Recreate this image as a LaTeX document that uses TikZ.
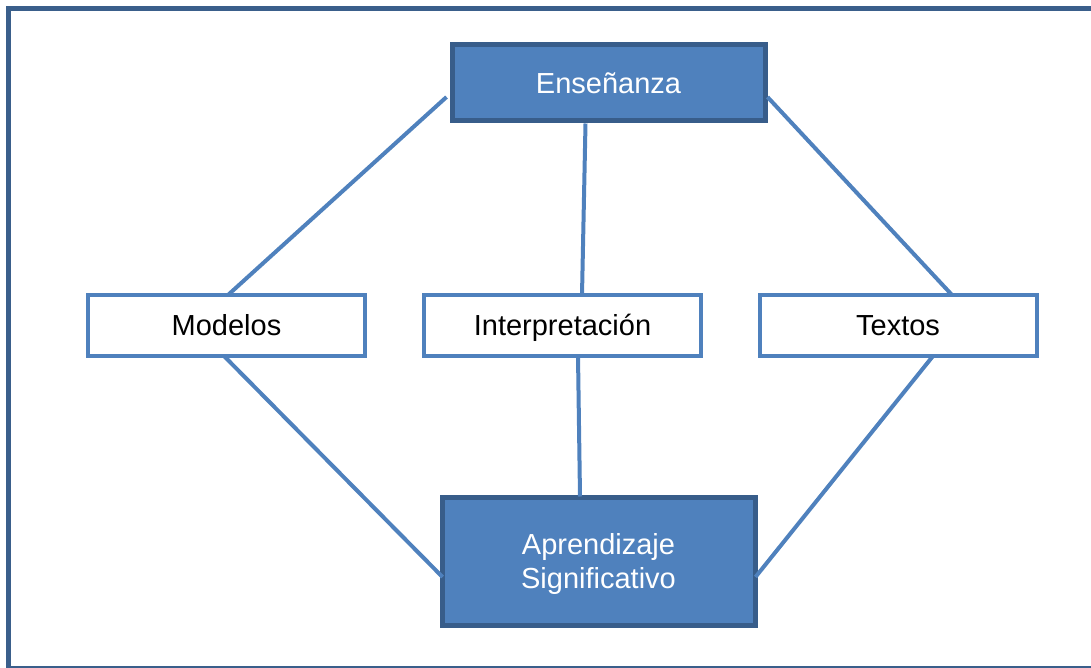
\documentclass[tikz,border=0pt]{standalone}
\usepackage{fontspec}
\setmainfont{Liberation Sans}
\usetikzlibrary{calc}
\definecolor{boxfill}{HTML}{4F81BD}
\definecolor{boxdark}{HTML}{385D8A}
\definecolor{framecol}{HTML}{3A5F8B}
\tikzset{
  bluebox/.style={draw=boxdark, fill=boxfill, line width=5pt, text=white,
    minimum width=313pt, align=center, inner sep=0pt,
    font=\fontsize{29}{35}\selectfont},
  whitebox/.style={draw=boxfill, fill=white, line width=4pt, text=black,
    minimum width=277pt, minimum height=61pt, inner sep=0pt,
    text height=20.8pt, text depth=0pt,
    font=\fontsize{29}{35}\selectfont},
  link/.style={draw=boxfill, line width=4pt},
}
\begin{document}
\begin{tikzpicture}[x=1pt,y=-1pt]
\useasboundingbox (0,0) rectangle (1091,668);
% frame
\draw[framecol, line width=5pt] (1091,9) -- (8.5,9) -- (8.5,668);
\draw[framecol, line width=1.5pt] (8.5,667) -- (1091,667);
% nodes
\node[bluebox, minimum height=76pt, text height=20.8pt, text depth=0pt] (ens) at (608.5,83) {Enseñanza};
\node[bluebox, minimum height=128pt] (apr) at (598.5,561) {};
\node[text=white, align=center, inner sep=0pt, font=\fontsize{29}{34}\selectfont] (aprtext) at ($(apr.center)+(0,3)$) {Aprendizaje\\Significativo};
\node[whitebox] (mod) at (226.5,325.5) {Modelos};
\node[whitebox] (int) at (562.5,325.5) {Interpretación};
\node[whitebox] (tex) at (898,325.5) {Textos};
% connectors
\draw[link] ($(ens.west)+(-3,14)$) -- ($(mod.north)+(1.5,2)$);
\draw[link] ($(ens.south)+(-23,0)$) -- ($(int.north)+(19.5,2)$);
\draw[link] ($(ens.east)+(0,14)$) -- ($(tex.north)+(54,2)$);
\draw[link] ($(mod.south)+(-2.5,-2)$) -- ($(apr.west)+(3,16)$);
\draw[link] ($(int.south)+(15.5,-2)$) -- ($(apr.north)+(-18.5,2)$);
\draw[link] ($(tex.south)+(35,-2)$) -- ($(apr.east)+(-2,16)$);
\end{tikzpicture}
\end{document}
